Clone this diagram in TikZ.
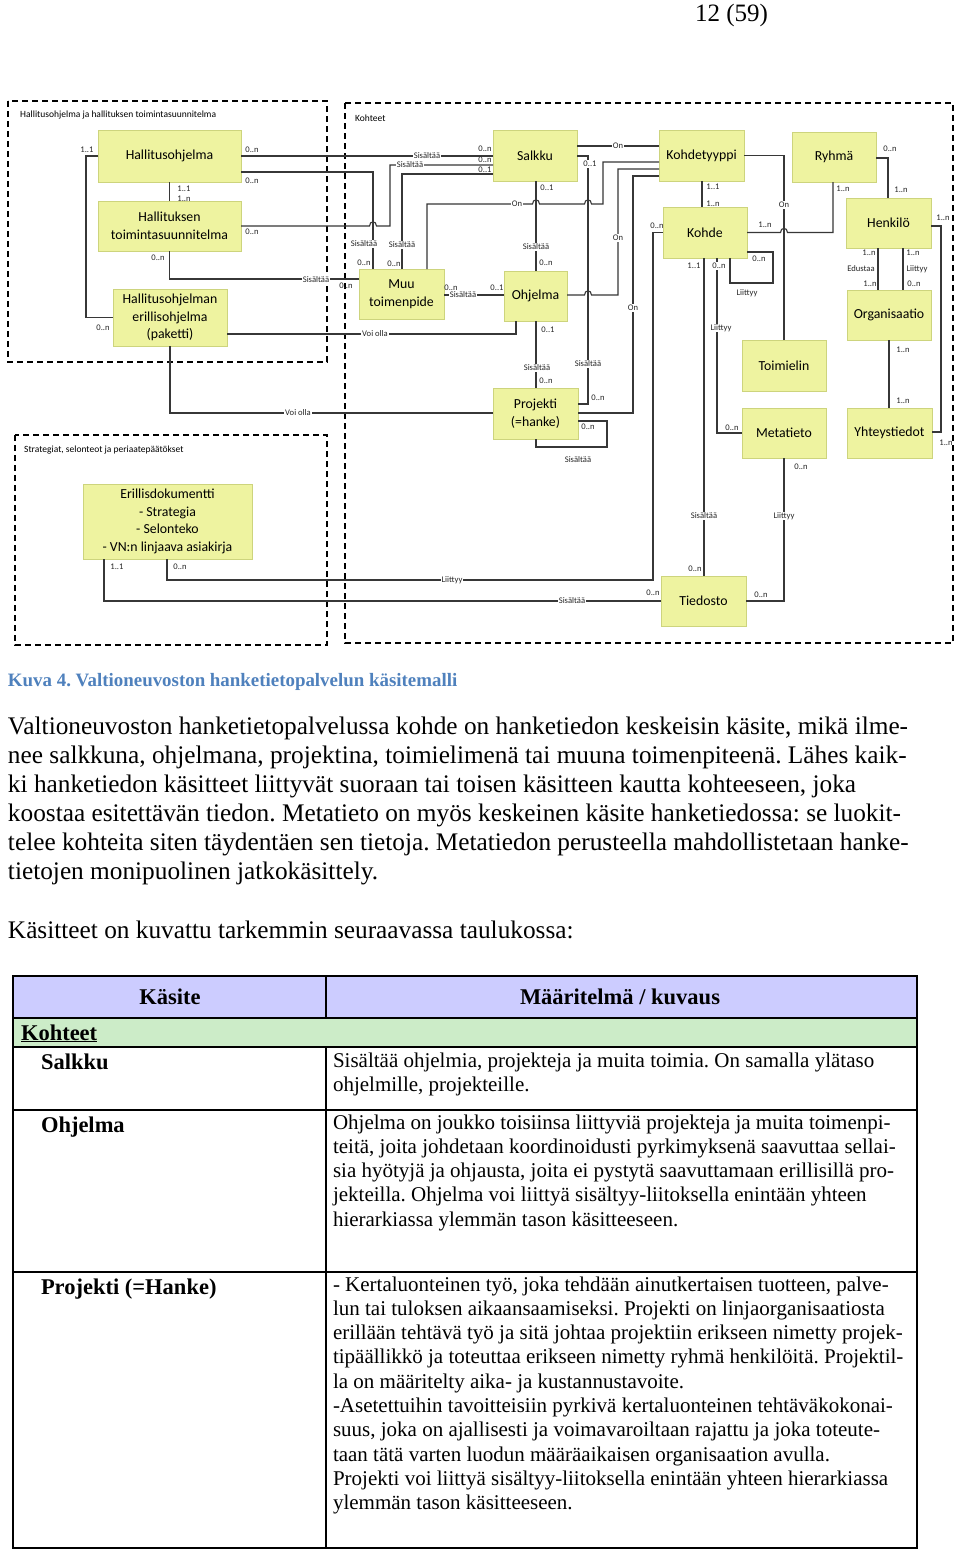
\documentclass[tikz,border=0pt]{standalone}
\usepackage{fontspec}
\setmainfont{Liberation Serif}
\newfontfamily\carl{Carlito}
\usetikzlibrary{calc,shadows}
\definecolor{boxfill}{RGB}{238,243,160}
\definecolor{boxedge}{RGB}{205,212,125}
\definecolor{lineg}{RGB}{55,55,55}
\definecolor{capblue}{RGB}{79,129,189}
\definecolor{hdrfill}{RGB}{204,204,255}
\definecolor{kohfill}{RGB}{204,236,200}
\frenchspacing
\begin{document}
\begin{tikzpicture}[x=1pt,y=-1pt,
  box/.style={draw=boxedge, line width=0.6pt, fill=boxfill, align=center, inner sep=0pt, outer sep=0pt,
    font=\carl\fontsize{13.8}{17.5}\selectfont, drop shadow={shadow xshift=1.2pt,shadow yshift=-1.2pt,opacity=0.2}},
  conn/.style={draw=lineg, line width=1.1pt},
  lbl/.style={font=\carl\fontsize{8.6}{9}\selectfont, inner sep=0pt, text=black!85},
  onl/.style={lbl, fill=white, inner sep=0.8pt},
  frame/.style={draw=black, line width=1.4pt, dash pattern=on 6pt off 4pt},
  ftitle/.style={font=\carl\fontsize{9.5}{11}\selectfont, anchor=west, inner sep=0pt},
  ptext/.style={anchor=base west, inner sep=0pt, outer sep=0pt},
  body/.style={ptext, font=\fontsize{25.3}{29}\selectfont},
  tdesc/.style={ptext, font=\fontsize{21}{24}\selectfont},
  tbold/.style={ptext, font=\bfseries\fontsize{22.5}{26}\selectfont},
  tline/.style={draw=black, line width=1.1pt},
]
\useasboundingbox (0,0) rectangle (960,1551);
\fill[white] (0,0) rectangle (960,1551);

% ---------- page header ----------
\node[ptext, font=\fontsize{25}{28}\selectfont] (pagenum) at (695,21) {12 (59)};

% ---------- frames ----------
\draw[frame] (8,101) rectangle (327,362);
\node[ftitle] (f1t) at (20,115) {Hallitusohjelma ja hallituksen toimintasuunnitelma};
\draw[frame] (345,103) rectangle (953,643);
\node[ftitle] (f2t) at (355,118) {Kohteet};
\draw[frame] (15,435) rectangle (327,645);
\node[ftitle] (f3t) at (24,450) {Strategiat, selonteot ja periaatepäätökset};

% ---------- boxes ----------
\node[box, minimum width=143pt, minimum height=52pt] (hal) at (169.5,156) {Hallitusohjelma};
\node[box, minimum width=143pt, minimum height=50pt] (hts) at (169.5,226) {Hallituksen\\toimintasuunnitelma};
\node[box, minimum width=114pt, minimum height=57pt] (heo) at (170,317.5) {Hallitusohjelman\\erillisohjelma\\(paketti)};
\node[box, minimum width=169pt, minimum height=75pt] (eri) at (167.5,521.5) {Erillisdokumentti\\- Strategia\\- Selonteko\\- VN:n linjaava asiakirja};
\node[box, minimum width=84pt, minimum height=51pt] (sal) at (535,155.5) {Salkku};
\node[box, minimum width=85pt, minimum height=50pt] (muu) at (401.5,294) {Muu\\toimenpide};
\node[box, minimum width=63pt, minimum height=50pt] (ohj) at (535.5,296) {Ohjelma};
\node[box, minimum width=85pt, minimum height=51pt] (pro) at (535.5,413.5) {Projekti\\(=hanke)};
\node[box, minimum width=85pt, minimum height=51pt] (kty) at (701.5,155.5) {Kohdetyyppi};
\node[box, minimum width=84pt, minimum height=50pt] (ryh) at (834,157) {Ryhmä};
\node[box, minimum width=84pt, minimum height=51pt] (koh) at (705,232.5) {Kohde};
\node[box, minimum width=85pt, minimum height=50pt] (hen) at (888.5,223) {Henkilö};
\node[box, minimum width=84pt, minimum height=50pt] (org) at (889,315) {Organisaatio};
\node[box, minimum width=84pt, minimum height=51pt] (toi) at (784,365.5) {Toimielin};
\node[box, minimum width=84pt, minimum height=50pt] (met) at (784,433) {Metatieto};
\node[box, minimum width=85pt, minimum height=50pt] (yht) at (889.5,433) {Yhteystiedot};
\node[box, minimum width=85pt, minimum height=50pt] (tie) at (703.5,601) {Tiedosto};

% ---------- connectors ----------
\draw[conn] (hal.west) -- (86,156) -- (86,317.5) -- (heo.west);
\draw[conn] (hal.south) -- (hts.north);
\draw[conn] (hal.east) -- (sal.west |- hal.east);
\draw[conn] (hal.east |- 0,172) -- (373,172) -- (muu.north -| 373,0);
\draw[conn] (hts.east) -- (369.5,226) .. controls (369.5,220.5) and (376.5,220.5) .. (376.5,226) -- (390,226) -- (390,165) -- (sal.west |- 0,165);
\draw[conn] (hts.south) -- (hts.south |- 0,279) -- (muu.west |- 0,279);
\draw[conn] (muu.north -| 402,0) -- (402,174) -- (sal.west |- 0,174);
\draw[conn] (muu.north -| 427,0) -- (427,204) -- (532.5,204) .. controls (532.5,198.5) and (539.5,198.5) .. (539.5,204) -- (584.5,204) .. controls (584.5,198.5) and (591.5,198.5) .. (591.5,204) -- (603,204) -- (603,162) -- (kty.west |- 0,162);
\draw[conn] (muu.east |- 0,295) -- (ohj.west |- 0,295);
\draw[conn] (sal.south -| 536,0) -- (ohj.north -| 536,0);
\draw[conn] (sal.east |- 0,146) -- (kty.west |- 0,146);
\draw[conn] (sal.east |- 0,156) -- (588,156) -- (588,404) -- (pro.east |- 0,404);
\draw[conn] (ohj.east |- 0,295) -- (584.5,295) .. controls (584.5,289.5) and (591.5,289.5) .. (591.5,295) -- (618,295) -- (618,169) -- (kty.west |- 0,169);
\draw[conn] (kty.west |- 0,176) -- (633,176) -- (633,413) -- (pro.east |- 0,413);
\draw[conn] (pro.east |- 0,421) -- (607,421) -- (607,447) -- (536,447) -- (pro.south -| 536,0);
\draw[conn] (ohj.south -| 536,0) -- (pro.north -| 536,0);
\draw[conn] (heo.east |- 0,334) -- (516,334) -- (ohj.south -| 516,0);
\draw[conn] (heo.south) -- (heo.south |- 0,413) -- (pro.west |- 0,413);
\draw[conn] (eri.south -| 167,0) -- (167,580) -- (653,580) -- (653,232.5) -- (koh.west);
\draw[conn] (eri.south -| 104,0) -- (104,601) -- (tie.west);
\draw[conn] (koh.south -| 704,0) -- (tie.north -| 704,0);
\draw[conn] (koh.south -| 717,0) -- (717,433) -- (met.west);
\draw[conn] (koh.east |- 0,252) -- (773,252) -- (773,283) -- (730,283) -- (koh.south -| 730,0);
\draw[conn] (koh.east) -- (780.5,232.5) .. controls (780.5,227) and (787.5,227) .. (787.5,232.5) -- (833,232.5) -- (ryh.south -| 833,0);
\draw[conn] (kty.east) -- (784,155.5) -- (toi.north);
\draw[conn] (kty.south -| 702,0) -- (koh.north -| 702,0);
\draw[conn] (ryh.east |- 0,158) -- (888,158) -- (hen.north -| 888,0);
\draw[conn] (hen.east |- 0,226) -- (941,226) -- (941,432) -- (yht.east |- 0,432);
\draw[conn] (hen.south -| 878,0) -- (org.north -| 878,0);
\draw[conn] (hen.south -| 903,0) -- (org.north -| 903,0);
\draw[conn] (org.south -| 889,0) -- (yht.north -| 889,0);
\draw[conn] (met.south) -- (784,601) -- (tie.east);

% ---------- connector labels ----------
\node[lbl] (a1) at (87,150) {1..1};
\node[lbl] (a2) at (103,328) {0..n};
\node[lbl] (a3) at (184,189) {1..1};
\node[lbl] (a4) at (184,199) {1..n};
\node[lbl] (a5) at (252,150) {0..n};
\node[onl] (a6) at (427,156) {Sisältää};
\node[lbl] (a7) at (485,149) {0..n};
\node[lbl] (a8) at (252,181) {0..n};
\node[onl] (a9) at (364,244) {Sisältää};
\node[lbl] (a10) at (364,263) {0..n};
\node[lbl] (a11) at (252,232) {0..n};
\node[onl] (a12) at (410,165) {Sisältää};
\node[lbl] (a13) at (485,160) {0..n};
\node[lbl] (a14) at (158,258) {0..n};
\node[onl] (a15) at (316,280) {Sisältää};
\node[lbl] (a16) at (346,286) {0..n};
\node[onl] (a17) at (402,245) {Sisältää};
\node[lbl] (a18) at (394,264) {0..n};
\node[lbl] (a19) at (485,170) {0..1};
\node[onl] (a20) at (517,204) {On};
\node[lbl] (a21) at (451,288) {0..n};
\node[onl] (a22) at (463,295) {Sisältää};
\node[lbl] (a23) at (497,288) {0..1};
\node[lbl] (a24) at (547,188) {0..1};
\node[onl] (a25) at (536,247) {Sisältää};
\node[lbl] (a26) at (546,263) {0..n};
\node[onl] (a27) at (618,146) {On};
\node[onl] (a28) at (590,164) {0..1};
\node[onl] (a29) at (588,364) {Sisältää};
\node[lbl] (a30) at (598,398) {0..n};
\node[onl] (a31) at (618,238) {On};
\node[onl] (a32) at (633,308) {On};
\node[lbl] (a33) at (588,427) {0..n};
\node[lbl] (a34) at (578,460) {Sisältää};
\node[lbl] (a35) at (548,330) {0..1};
\node[onl] (a36) at (537,368) {Sisältää};
\node[lbl] (a37) at (546,381) {0..n};
\node[onl] (a38) at (375,334) {Voi olla};
\node[onl] (a39) at (298,413) {Voi olla};
\node[lbl] (a40) at (180,567) {0..n};
\node[onl] (a41) at (452,580) {Liittyy};
\node[lbl] (a42) at (657,226) {0..n};
\node[lbl] (a43) at (117,567) {1..1};
\node[onl] (a44) at (572,601) {Sisältää};
\node[lbl] (a45) at (653,593) {0..n};
\node[lbl] (a46) at (694,266) {1..1};
\node[onl] (a47) at (704,516) {Sisältää};
\node[lbl] (a48) at (695,569) {0..n};
\node[onl] (a49) at (719,266) {0..n};
\node[onl] (a50) at (721,328) {Liittyy};
\node[lbl] (a51) at (732,428) {0..n};
\node[lbl] (a52) at (759,259) {0..n};
\node[lbl] (a53) at (747,293) {Liittyy};
\node[lbl] (a54) at (765,225) {1..n};
\node[lbl] (a55) at (843,189) {1..n};
\node[onl] (a56) at (784,205) {On};
\node[lbl] (a57) at (713,187) {1..1};
\node[lbl] (a58) at (713,204) {1..n};
\node[lbl] (a59) at (890,149) {0..n};
\node[lbl] (a60) at (901,190) {1..n};
\node[lbl] (a61) at (943,218) {1..n};
\node[lbl] (a62) at (946,443) {1..n};
\node[lbl] (a63) at (869,253) {1..n};
\node[lbl] (a64) at (861,269) {Edustaa};
\node[lbl] (a65) at (870,284) {1..n};
\node[lbl] (a66) at (913,253) {1..n};
\node[lbl] (a67) at (917,269) {Liittyy};
\node[lbl] (a68) at (914,284) {0..n};
\node[lbl] (a69) at (903,350) {1..n};
\node[lbl] (a70) at (903,401) {1..n};
\node[lbl] (a71) at (801,467) {0..n};
\node[onl] (a72) at (784,516) {Liittyy};
\node[lbl] (a73) at (761,595) {0..n};

% ---------- caption and body ----------
\node[ptext, font=\bfseries\fontsize{18.9}{22}\selectfont, text=capblue] (cap) at (8,686) {Kuva 4. Valtioneuvoston hanketietopalvelun käsitemalli};
\foreach \i/\yy/\txt in {
 1/734/{Valtioneuvoston hanketietopalvelussa kohde on hanketiedon keskeisin käsite, mikä ilme-},
 2/763/{nee salkkuna, ohjelmana, projektina, toimielimenä tai muuna toimenpiteenä. Lähes kaik-},
 3/792/{ki hanketiedon käsitteet liittyvät suoraan tai toisen käsitteen kautta kohteeseen, joka},
 4/821/{koostaa esitettävän tiedon. Metatieto on myös keskeinen käsite hanketiedossa: se luokit-},
 5/850/{telee kohteita siten täydentäen sen tietoja. Metatiedon perusteella mahdollistetaan hanke-},
 6/879/{tietojen monipuolinen jatkokäsittely.}}
 { \node[body] (par\i) at (8,\yy) {\txt}; }
\node[body] (intro) at (8,938) {Käsitteet on kuvattu tarkemmin seuraavassa taulukossa:};

% ---------- table ----------
\fill[hdrfill] (13,976) rectangle (917,1018);
\fill[kohfill] (13,1018) rectangle (917,1047);
\draw[tline] (13,1018) -- (917,1018);
\draw[tline] (13,1047) -- (917,1047);
\draw[tline] (13,1110) -- (917,1110);
\draw[tline] (13,1272) -- (917,1272);
\draw[tline] (326,976) -- (326,1018);
\draw[tline] (326,1047) -- (326,1548);
\draw[draw=black, line width=1.5pt] (13,976) rectangle (917,1548);

\node[anchor=base, inner sep=0pt, font=\bfseries\fontsize{22.5}{26}\selectfont] (th1) at (170,1004) {Käsite};
\node[anchor=base, inner sep=0pt, font=\bfseries\fontsize{22.5}{26}\selectfont] (th2) at (620,1004) {Määritelmä / kuvaus};
\node[tbold] (tkoh) at (21,1040) {\underline{Kohteet}};
\node[tbold] (tsal) at (41,1069) {Salkku};
\node[tbold] (tohj) at (41,1132) {Ohjelma};
\node[tbold] (tpro) at (41,1294) {Projekti (=Hanke)};

\foreach \i/\yy/\txt in {
 1/1067/{Sisältää ohjelmia, projekteja ja muita toimia. On samalla ylätaso},
 2/1091.3/{ohjelmille, projekteille.}}
 { \node[tdesc] (ds\i) at (333,\yy) {\txt}; }
\foreach \i/\yy/\txt in {
 1/1129/{Ohjelma on joukko toisiinsa liittyviä projekteja ja muita toimenpi-},
 2/1153.3/{teitä, joita johdetaan koordinoidusti pyrkimyksenä saavuttaa sellai-},
 3/1177.6/{sia hyötyjä ja ohjausta, joita ei pystytä saavuttamaan erillisillä pro-},
 4/1201.9/{jekteilla. Ohjelma voi liittyä sisältyy-liitoksella enintään yhteen},
 5/1226.2/{hierarkiassa ylemmän tason käsitteeseen.}}
 { \node[tdesc] (do\i) at (333,\yy) {\txt}; }
\foreach \i/\yy/\txt in {
 1/1291/{- Kertaluonteinen työ, joka tehdään ainutkertaisen tuotteen, palve-},
 2/1315.3/{lun tai tuloksen aikaansaamiseksi. Projekti on linjaorganisaatiosta},
 3/1339.6/{erillään tehtävä työ ja sitä johtaa projektiin erikseen nimetty projek-},
 4/1363.9/{tipäällikkö ja toteuttaa erikseen nimetty ryhmä henkilöitä. Projektil-},
 5/1388.2/{la on määritelty aika- ja kustannustavoite.},
 6/1412.5/{-Asetettuihin tavoitteisiin pyrkivä kertaluonteinen tehtäväkokonai-},
 7/1436.8/{suus, joka on ajallisesti ja voimavaroiltaan rajattu ja joka toteute-},
 8/1461.1/{taan tätä varten luodun määräaikaisen organisaation avulla.},
 9/1485.4/{Projekti voi liittyä sisältyy-liitoksella enintään yhteen hierarkiassa},
 10/1509.7/{ylemmän tason käsitteeseen.}}
 { \node[tdesc] (dp\i) at (333,\yy) {\txt}; }
\end{tikzpicture}
\end{document}
